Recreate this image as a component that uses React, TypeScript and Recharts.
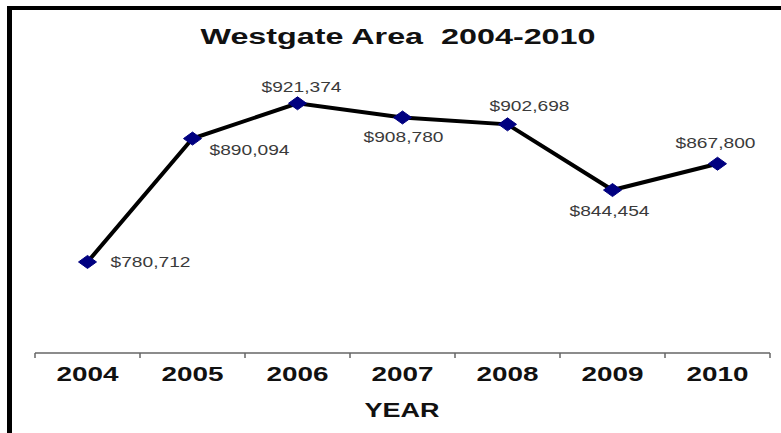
import React from 'react';
import { LineChart, Line, XAxis, YAxis, LabelList } from 'recharts';

// Median price by year, Westgate area
const years = ['2004', '2005', '2006', '2007', '2008', '2009', '2010'];
const prices = [780712, 890094, 921374, 908780, 902698, 844454, 867800];

const data = years.map((year, i) => ({ year, price: prices[i] }));

// where each value label sits relative to its marker
const labelSpots = [
  { dx: 23, dy: 5, anchor: 'start' },
  { dx: 17, dy: 16, anchor: 'start' },
  { dx: 4, dy: -11, anchor: 'middle' },
  { dx: 1, dy: 25, anchor: 'middle' },
  { dx: 22, dy: -13, anchor: 'middle' },
  { dx: -3, dy: 26, anchor: 'middle' },
  { dx: -2, dy: -16, anchor: 'middle' }
];

const W = 781;
const H = 433;
const PLOT_LEFT = 35;
const PLOT_RIGHT = 770;
const HALF_STEP = (PLOT_RIGHT - PLOT_LEFT) / years.length / 2;
const FONT = 'Arial, "Liberation Sans", sans-serif';

const fmt = (v: number) => '$' + v.toLocaleString('en-US');

const Diamond = (props: any) => {
  const { cx, cy } = props;
  if (cx == null || cy == null) return null;
  return (
    <path
      d={`M${cx - 9},${cy} L${cx},${cy - 6.5} L${cx + 9},${cy} L${cx},${cy + 6.5} Z`}
      fill="#000080"
      stroke="#000080"
    />
  );
};

const YearTick = (props: any) => {
  const { x, y, payload, index } = props;
  const last = index === years.length - 1;
  return (
    <g>
      <line x1={x - HALF_STEP} y1={y} x2={x - HALF_STEP} y2={y + 5} stroke="#666" strokeWidth={1.5} />
      {last && <line x1={x + HALF_STEP} y1={y} x2={x + HALF_STEP} y2={y + 5} stroke="#666" strokeWidth={1.5} />}
      <text
        x={x}
        y={y + 28}
        textAnchor="middle"
        fontFamily={FONT}
        fontWeight="bold"
        fontSize={21}
        fill="#111"
        textLength={62}
        lengthAdjust="spacingAndGlyphs"
      >
        {payload.value}
      </text>
    </g>
  );
};

const PriceLabel = (props: any) => {
  const { x, y, value, index } = props;
  const spot = labelSpots[index];
  if (!spot) return null;
  const lx = x + spot.dx;
  return (
    <text
      x={lx}
      y={y + spot.dy}
      textAnchor={spot.anchor}
      fontFamily={FONT}
      fontSize={15}
      fill="#3a3a3a"
      textLength={80}
      lengthAdjust="spacingAndGlyphs"
    >
      {fmt(value)}
    </text>
  );
};

export default function App() {
  return (
    <div
      style={{
        position: 'fixed',
        left: 0,
        top: 0,
        width: W,
        height: H,
        background: '#fff',
        overflow: 'hidden'
      }}
    >
      {/* frame, only the top and left edges fall inside the picture */}
      <div
        style={{
          position: 'absolute',
          left: 7,
          top: 6,
          width: 900,
          height: 600,
          borderLeft: '5px solid #000',
          borderTop: '4px solid #000'
        }}
      />
      <LineChart
        width={W}
        height={H}
        data={data}
        margin={{ top: 71, right: W - PLOT_RIGHT, left: PLOT_LEFT, bottom: 0 }}
        style={{ position: 'absolute', left: 0, top: 0 }}
      >
        <text
          x={398}
          y={44}
          textAnchor="middle"
          fontFamily={FONT}
          fontWeight="bold"
          fontSize={22}
          fill="#111"
          textLength={395}
          lengthAdjust="spacingAndGlyphs"
          style={{ whiteSpace: 'pre' }}
        >
          {'Westgate Area  2004-2010'}
        </text>
        <text
          x={402}
          y={417}
          textAnchor="middle"
          fontFamily={FONT}
          fontWeight="bold"
          fontSize={21}
          fill="#111"
          textLength={75}
          lengthAdjust="spacingAndGlyphs"
        >
          YEAR
        </text>
        <XAxis
          dataKey="year"
          height={80}
          padding={{ left: HALF_STEP, right: HALF_STEP }}
          axisLine={{ stroke: '#666', strokeWidth: 1.5 }}
          tickLine={false}
          tickSize={0}
          tickMargin={0}
          interval={0}
          tick={<YearTick />}
        />
        <YAxis hide domain={[700000, 950000]} />
        <Line
          type="linear"
          dataKey="price"
          stroke="#000"
          strokeWidth={4}
          dot={<Diamond />}
          activeDot={false}
          isAnimationActive={false}
        >
          <LabelList dataKey="price" content={<PriceLabel />} />
        </Line>
      </LineChart>
    </div>
  );
}
